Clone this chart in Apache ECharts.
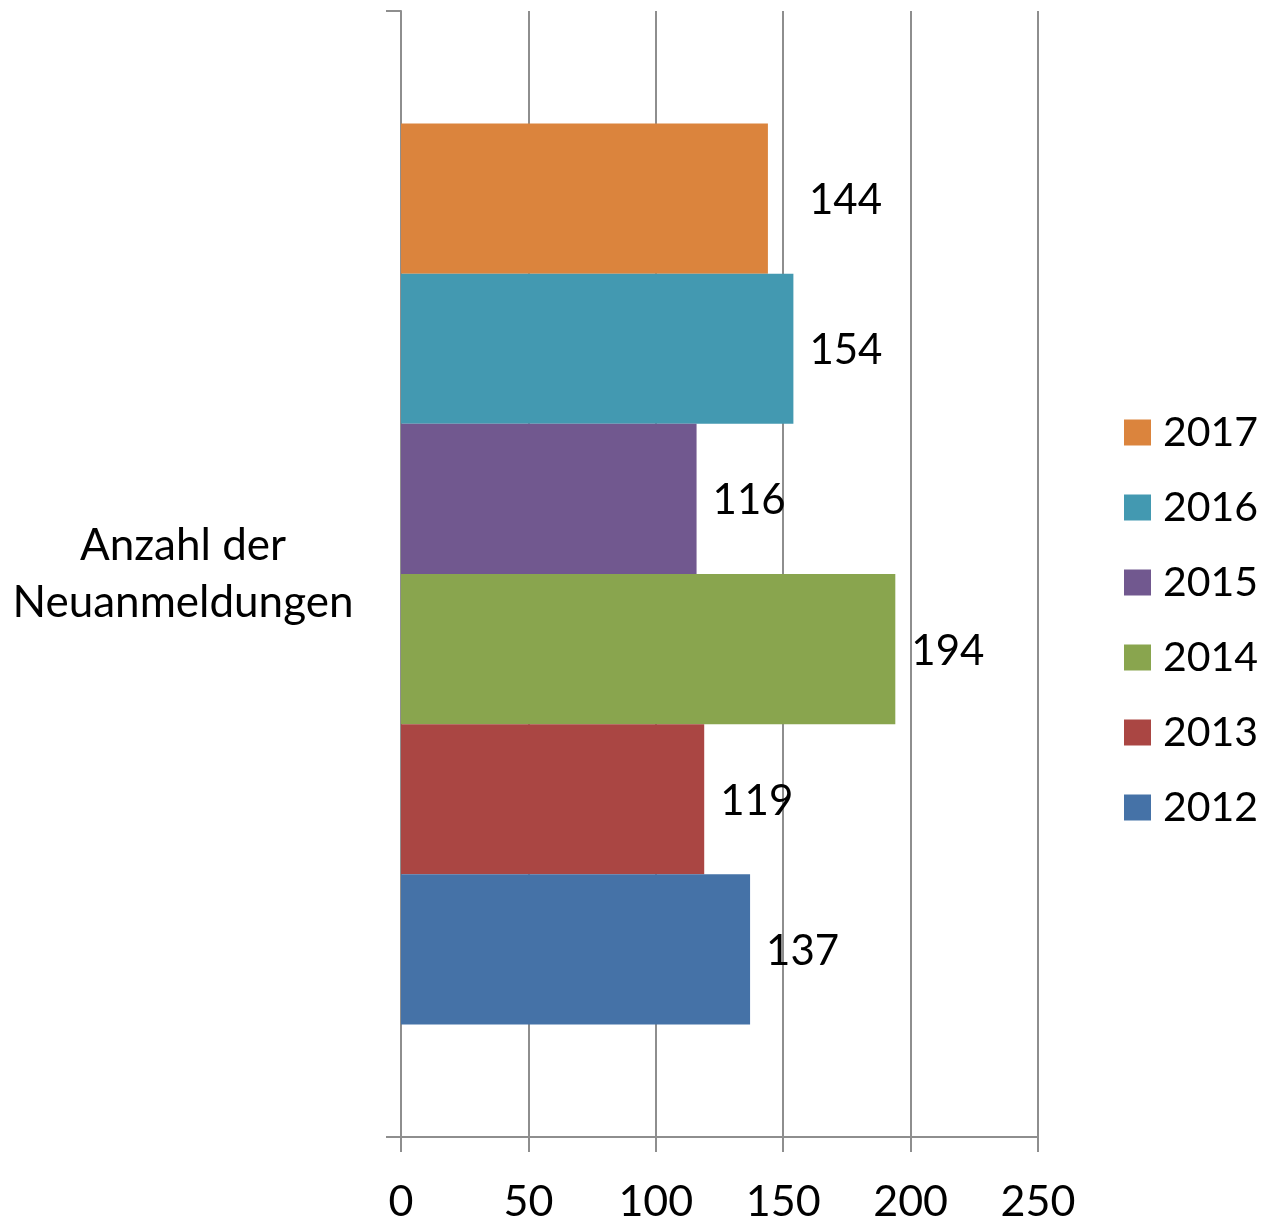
<!DOCTYPE html>
<html>
<head>
<meta charset="utf-8">
<title>Neuanmeldungen</title>
<script src="https://cdn.jsdelivr.net/npm/echarts@6/dist/echarts.min.js"></script>
<style>
  html, body { margin: 0; padding: 0; background: #fff; }
  #chart { width: 1276px; height: 1224px; }
</style>
</head>
<body>
<div id="chart"></div>
<script>
// Daten (von oben nach unten)
const kategorien = ['Anzahl der\nNeuanmeldungen'];
const jahre = ['2017', '2016', '2015', '2014', '2013', '2012'];
const werte = [144, 154, 116, 194, 119, 137];
const farben = ['#DB843D', '#4399B1', '#71588F', '#89A54E', '#AA4643', '#4572A7'];
const xTicks = [0, 50, 100, 150, 200, 250];

const schrift = 'Lato';
const grau = '#8e8e8e';

const getOption = () => {
    // erste Serie liegt in ECharts oben
    const series = jahre.map((jahr, i) => ({
        name: jahr,
        type: 'bar',
        data: [werte[i]],
        barGap: '0%',
        barCategoryGap: '20%',
        itemStyle: { color: farben[i] },
        label: {
            show: true,
            position: 'right',
            // 2017 steht im Original etwas weiter weg
            distance: jahr === '2017' ? 41 : 16,
            offset: [0, 2],
            color: '#000',
            fontFamily: schrift,
            fontSize: 42
        }
    }));

    return {
        animation: false,
        grid: { left: 401, right: 238, top: 11, bottom: 78 },
        legend: {
            orient: 'vertical',
            left: 1119,
            top: 407,
            itemWidth: 27,
            itemHeight: 26,
            itemGap: 34,
            icon: 'rect',
            data: jahre,
            textStyle: { fontFamily: schrift, fontSize: 41, lineHeight: 40, color: '#000', padding: [0, 0, 0, 7] }
        },
        xAxis: {
            type: 'value',
            min: xTicks[0],
            max: xTicks[xTicks.length - 1],
            interval: 50,
            axisLine: { show: true, lineStyle: { color: grau, width: 2 } },
            axisTick: { show: true, length: 15, lineStyle: { color: grau, width: 2 } },
            splitLine: { show: true, lineStyle: { color: grau, width: 2 } },
            axisLabel: { color: '#000', fontFamily: schrift, fontSize: 43, margin: 44 }
        },
        yAxis: {
            type: 'category',
            data: kategorien,
            axisLine: { show: true, lineStyle: { color: grau, width: 2 } },
            axisTick: { show: true, length: 15, lineStyle: { color: grau, width: 2 } },
            axisLabel: {
                color: '#000',
                fontFamily: schrift,
                fontSize: 44,
                lineHeight: 57,
                align: 'center',
                margin: 218
            }
        },
        series: series
    };
};

const chart = echarts.init(document.getElementById('chart'));
chart.setOption(getOption());
</script>
</body>
</html>
